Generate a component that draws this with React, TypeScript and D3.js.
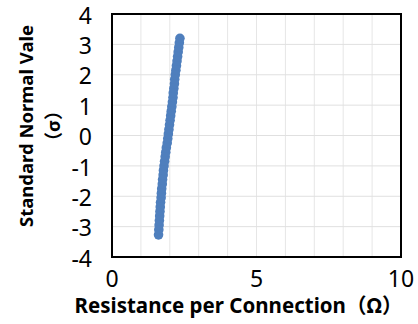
import React, { useEffect, useRef } from "react";
import * as d3 from "d3";

// normal probability plot values
const zValues = [
  -3.27, -3.1, -2.95, -2.8, -2.65, -2.5, -2.35, -2.2, -2.05, -1.9, -1.75,
  -1.6, -1.45, -1.3, -1.15, -1.0, -0.85, -0.7, -0.55, -0.4, -0.25, -0.1,
  0.05, 0.2, 0.35, 0.5, 0.65, 0.8, 0.95, 1.1, 1.25, 1.4, 1.55, 1.7, 1.85,
  2.0, 2.15, 2.3, 2.45, 2.6, 2.75, 2.9, 3.05, 3.2,
];
const resistance = [
  1.61, 1.62, 1.63, 1.64, 1.65, 1.66, 1.67, 1.68, 1.7, 1.71, 1.72, 1.74,
  1.75, 1.77, 1.78, 1.8, 1.82, 1.84, 1.86, 1.88, 1.91, 1.93, 1.95, 1.97,
  1.99, 2.01, 2.03, 2.05, 2.07, 2.09, 2.11, 2.12, 2.14, 2.16, 2.17, 2.19,
  2.21, 2.23, 2.25, 2.27, 2.29, 2.31, 2.33, 2.35,
];
const xTicks = [0, 5, 10];
const yTicks = [-4, -3, -2, -1, 0, 1, 2, 3, 4];

export default function App() {
  const ref = useRef<SVGSVGElement>(null);

  useEffect(() => {
    const width = 418;
    const height = 324;
    const margin = { top: 14, right: 17, bottom: 67, left: 112 };
    const innerWidth = width - margin.left - margin.right;
    const innerHeight = height - margin.top - margin.bottom;
    const font = "'Noto Sans', 'Noto Sans CJK JP', sans-serif";

    const svg = d3.select(ref.current).attr("width", width).attr("height", height);
    svg.selectAll("*").remove();

    const g = svg.append("g").attr("transform", `translate(${margin.left},${margin.top})`);

    const xScale = d3.scaleLinear().domain([0, 10]).range([0, innerWidth]);
    const yScale = d3.scaleLinear().domain([-4, 4]).range([innerHeight, 0]);

    // gridlines every 1 unit
    g.selectAll(".vgrid")
      .data(d3.range(1, 10))
      .enter()
      .append("line")
      .attr("x1", (d) => xScale(d))
      .attr("x2", (d) => xScale(d))
      .attr("y1", 0)
      .attr("y2", innerHeight)
      .attr("stroke", "#e6e6e6")
      .attr("stroke-width", 1);

    g.selectAll(".hgrid")
      .data(yTicks.slice(1, -1))
      .enter()
      .append("line")
      .attr("x1", 0)
      .attr("x2", innerWidth)
      .attr("y1", (d) => yScale(d))
      .attr("y2", (d) => yScale(d))
      .attr("stroke", "#e0e0e0")
      .attr("stroke-width", 1);

    // points
    const pts = zValues.map((z, i) => ({ z, r: resistance[i] }));
    g.selectAll("circle")
      .data(pts)
      .enter()
      .append("circle")
      .attr("cx", (d) => xScale(d.r))
      .attr("cy", (d) => yScale(d.z))
      .attr("r", 4.8)
      .attr("fill", "#4f7fbd");

    // plot frame
    g.append("rect")
      .attr("width", innerWidth)
      .attr("height", innerHeight)
      .attr("fill", "none")
      .attr("stroke", "#000")
      .attr("stroke-width", 2);

    // tick labels
    g.selectAll(".ytick")
      .data(yTicks)
      .enter()
      .append("text")
      .attr("x", -20)
      .attr("y", (d) => yScale(d))
      .attr("dy", "0.42em")
      .attr("text-anchor", "end")
      .style("font-family", font)
      .style("font-size", "23px")
      .attr("fill", "#000")
      .text((d) => d);

    g.selectAll(".xtick")
      .data(xTicks)
      .enter()
      .append("text")
      .attr("x", (d) => xScale(d))
      .attr("y", innerHeight + 30)
      .attr("text-anchor", "middle")
      .style("font-family", font)
      .style("font-size", "23px")
      .attr("fill", "#000")
      .text((d) => d);

    // axis titles
    svg.append("text")
      .attr("x", 238.5)
      .attr("y", 313)
      .attr("text-anchor", "middle")
      .style("font-family", font)
      .style("font-size", "20.5px")
      .style("font-weight", "bold")
      .text("Resistance per Connection（Ω）");

    const yt = svg.append("text")
      .attr("transform", `translate(0,126) rotate(-90)`)
      .attr("text-anchor", "middle")
      .style("font-family", font)
      .style("font-size", "18.5px")
      .style("font-weight", "bold");
    yt.append("tspan").attr("x", 0).attr("y", 33).text("Standard Normal Vale");
    yt.append("tspan").attr("x", 0).attr("y", 60).text("（σ）");
  }, []);

  return (
    <div style={{ position: "absolute", left: 0, top: 0 }}>
      <svg ref={ref}></svg>
    </div>
  );
}
